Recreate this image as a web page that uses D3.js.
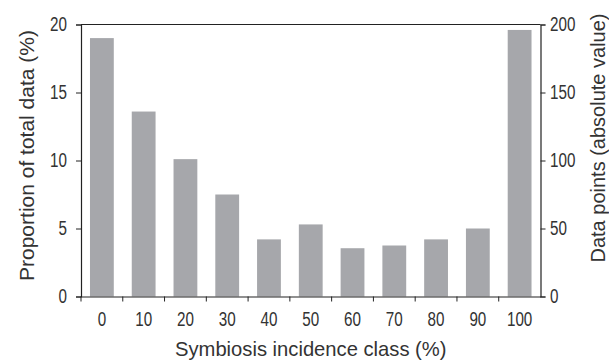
<!DOCTYPE html>
<html>
<head>
<meta charset="utf-8">
<script src="https://cdn.jsdelivr.net/npm/d3@7"></script>
<style>
  body { margin: 0; background: #fff; }
  text { font-family: "Liberation Sans", Arial, sans-serif; fill: #333; }
</style>
</head>
<body>
<div id="chart"></div>
<script>
// incidence classes and share of data in each (%)
const classes = ['0', '10', '20', '30', '40', '50', '60', '70', '80', '90', '100'];
const proportions = [19.0, 13.6, 10.1, 7.5, 4.2, 5.3, 3.55, 3.75, 4.2, 5.0, 19.6];
const leftTicks = [0, 5, 10, 15, 20];
const rightTicks = [0, 50, 100, 150, 200];

const width = 609;
const height = 361;
const margin = {top: 24.5, right: 68.5, bottom: 64.5, left: 81};

const svg = d3.select('#chart').append('svg')
  .attr('width', width)
  .attr('height', height);

const x = d3.scaleBand()
  .domain(classes)
  .range([margin.left, width - margin.right])
  .paddingInner(0.43)
  .paddingOuter(0.215);

const y = d3.scaleLinear()
  .domain([0, 20])
  .range([height - margin.bottom, margin.top]);

const y2 = d3.scaleLinear()
  .domain([0, 200])
  .range([height - margin.bottom, margin.top]);

svg.append('g')
  .selectAll('rect')
  .data(proportions)
  .enter()
  .append('rect')
  .attr('x', function(d, i) { return x(classes[i]); })
  .attr('y', function(d) { return y(d); })
  .attr('width', x.bandwidth())
  .attr('height', function(d) { return y(0) - y(d); })
  .attr('fill', '#a6a7ab');

const axisColor = '#222';

// left axis
const gl = svg.append('g')
  .attr('transform', 'translate(' + margin.left + ',0)')
  .call(d3.axisLeft(y).tickValues(leftTicks).tickSize(5).tickPadding(9));

// right axis
const gr = svg.append('g')
  .attr('transform', 'translate(' + (width - margin.right) + ',0)')
  .call(d3.axisRight(y2).tickValues(rightTicks).tickSize(5).tickPadding(4.5));

// bottom axis: ticks at class boundaries, labels at centres
const gb = svg.append('g')
  .attr('transform', 'translate(0,' + y(0) + ')')
  .call(d3.axisBottom(x).tickSize(0).tickPadding(15.5));

const step = x.step();
const boundaries = d3.range(classes.length).map(function(i) { return margin.left + i * step; });
gb.selectAll('.boundary')
  .data(boundaries)
  .enter()
  .append('line')
  .attr('class', 'boundary')
  .attr('x1', function(d) { return d; })
  .attr('x2', function(d) { return d; })
  .attr('y1', 0)
  .attr('y2', 5)
  .attr('stroke', axisColor);

// top frame
svg.append('line')
  .attr('x1', margin.left)
  .attr('x2', width - margin.right)
  .attr('y1', margin.top)
  .attr('y2', margin.top)
  .attr('stroke', axisColor)
  .attr('stroke-width', 1.2);

[gl, gr, gb].forEach(function(g) {
  g.selectAll('.domain').attr('stroke', axisColor).attr('stroke-width', 1.2);
  g.selectAll('.tick line').attr('stroke', axisColor);
  g.selectAll('.tick text')
    .style('font-family', '"Liberation Sans", Arial, sans-serif')
    .style('font-size', '19.5px')
    .attr('fill', '#333')
    .each(function() {
      // tick numbers in the original are condensed
      const w = this.getComputedTextLength();
      d3.select(this)
        .attr('textLength', w * 0.78)
        .attr('lengthAdjust', 'spacingAndGlyphs');
    });
});

// axis titles
svg.append('text')
  .attr('x', (margin.left + width - margin.right) / 2)
  .attr('y', 356)
  .attr('text-anchor', 'middle')
  .style('font-size', '20.2px')
  .text('Symbiosis incidence class (%)');

svg.append('text')
  .attr('transform', 'translate(33.5,155.5) rotate(-90)')
  .attr('text-anchor', 'middle')
  .style('font-size', '21px')
  .text('Proportion of total data (%)');

svg.append('text')
  .attr('transform', 'translate(604.5,138) rotate(-90)')
  .attr('text-anchor', 'middle')
  .style('font-size', '20px')
  .text('Data points (absolute value)');
</script>
</body>
</html>
